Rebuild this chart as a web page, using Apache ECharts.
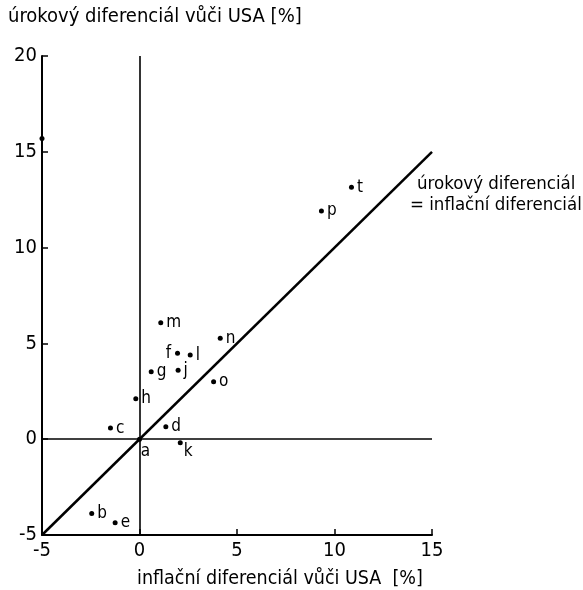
<!DOCTYPE html>
<html><head><meta charset="utf-8">
<script src="https://cdn.jsdelivr.net/npm/echarts@6/dist/echarts.min.js"></script>
<style>html,body{margin:0;padding:0;background:#fff}#c{width:583px;height:590px}</style>
</head><body><div id="c"></div>
<script>
// data
const pointNames = ['a','b','c','d','e','f','g','h','j','k','l','m','n','o','p','t',''];
const inflationDiff = [0, -2.45, -1.49, 1.35, -1.25, 1.95, 0.60, -0.19, 1.98, 2.09, 2.60, 1.09, 4.14, 3.80, 9.33, 10.87, -5];
const interestDiff  = [0, -3.88, 0.58, 0.65, -4.36, 4.48, 3.52, 2.11, 3.60, -0.18, 4.39, 6.08, 5.27, 3.00, 11.91, 13.15, 15.7];
const labelPos = ['a','right','right','right','right','left','right','right','right','k','right','right','right','right','right','right','right'];
const xTicks = [-5, 0, 5, 10, 15];
const yTicks = [-5, 0, 5, 10, 15, 20];
const parityLine = [[-5, -5], [15, 15]];

const FONT = '"DejaVu Sans Condensed", "DejaVu Sans", sans-serif';
const chart = echarts.init(document.getElementById('c'));
const pts = pointNames.map((n, i) => {
  const p = labelPos[i];
  let label = {position: 'right', distance: 3};
  if (p === 'left') label = {position: 'left', distance: 4};
  if (p === 'a') label = {position: 'bottom', distance: 1, offset: [6, 0]};
  if (p === 'k') label = {position: 'right', distance: 1, offset: [0, 9]};
  return {name: n, value: [inflationDiff[i], interestDiff[i]], label: label};
});
chart.setOption({
  animation: false,
  backgroundColor: '#fff',
  grid: {left: 42, right: 151, top: 56, bottom: 55},
  xAxis: {
    type: 'value', min: xTicks[0], max: xTicks[xTicks.length-1], interval: 5,
    axisLine: {show: true, onZero: false, lineStyle: {color: '#000', width: 2}},
    axisTick: {show: true, inside: true, length: 6, lineStyle: {color: '#000', width: 1.5}},
    axisLabel: {color: '#000', fontFamily: FONT, fontSize: 20, margin: 6},
    splitLine: {show: false}
  },
  yAxis: {
    type: 'value', min: yTicks[0], max: yTicks[yTicks.length-1], interval: 5,
    axisLine: {show: true, onZero: false, lineStyle: {color: '#000', width: 2}},
    axisTick: {show: true, inside: true, length: 6, lineStyle: {color: '#000', width: 1.5}},
    axisLabel: {color: '#000', fontFamily: FONT, fontSize: 20, margin: 5},
    splitLine: {show: false}
  },
  series: [
    {
      type: 'line', data: parityLine, symbol: 'none', silent: true,
      lineStyle: {color: '#000', width: 2.5},
      markLine: {
        silent: true, symbol: 'none', label: {show: false},
        lineStyle: {color: '#000', width: 1.6, type: 'solid', opacity: 1},
        data: [{xAxis: 0}, {yAxis: 0}]
      }
    },
    {
      type: 'scatter', data: pts, symbolSize: 5,
      itemStyle: {color: '#000', opacity: 1},
      label: {show: true, formatter: '{b}', color: '#000', fontFamily: FONT, fontSize: 17}
    }
  ],
  graphic: [
    {type: 'text', x: 8, y: 17, style: {text: 'úrokový diferenciál vůči USA [%]', font: '20px ' + FONT, fill: '#000', verticalAlign: 'middle', textVerticalAlign: 'middle'}},
    {type: 'text', x: 137, y: 579, style: {text: 'inflační diferenciál vůči USA  [%]', font: '19.5px ' + FONT, fill: '#000', verticalAlign: 'middle', textVerticalAlign: 'middle'}},
    {type: 'text', x: 417, y: 184, style: {text: 'úrokový diferenciál', font: '18.5px ' + FONT, fill: '#000', verticalAlign: 'middle', textVerticalAlign: 'middle'}},
    {type: 'text', x: 410, y: 205, style: {text: '= inflační diferenciál', font: '18.5px ' + FONT, fill: '#000', verticalAlign: 'middle', textVerticalAlign: 'middle'}}
  ]
});
</script></body></html>
